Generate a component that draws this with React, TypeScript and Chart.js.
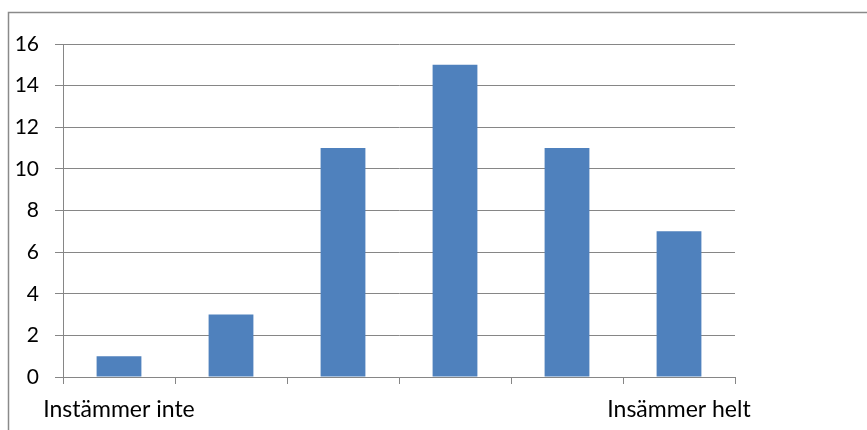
import React, { useEffect, useRef } from "react";
import { Chart, registerables } from "chart.js";

Chart.register(...registerables);

const categories = ["Instämmer inte", "", "", "", "", "Insämmer helt"];
const values = [1, 3, 11, 15, 11, 7];
const yTicks = [0, 2, 4, 6, 8, 10, 12, 14, 16];

const GRID = "#868686";
const FONT = "Lato, 'Open Sans', sans-serif";

const frame = {
  id: "frame",
  afterDraw(chart: any) {
    const ctx = chart.ctx;
    ctx.save();
    ctx.strokeStyle = "#8a8a8a";
    ctx.lineWidth = 1.5;
    ctx.beginPath();
    ctx.moveTo(8.5, 430);
    ctx.lineTo(8.5, 12.5);
    ctx.lineTo(867, 12.5);
    ctx.stroke();
    ctx.restore();
  },
};

export default function App() {
  const ref = useRef<HTMLCanvasElement>(null);
  useEffect(() => {
    if (!ref.current) return;
    const chart = new Chart(ref.current, {
      type: "bar",
      data: {
        labels: categories,
        datasets: [
          {
            data: values,
            backgroundColor: "#4F81BD",
            barPercentage: 0.4,
            categoryPercentage: 1,
          },
        ],
      },
      options: {
        responsive: false,
        animation: false,
        layout: { padding: { left: 0, top: 44, right: 132, bottom: 0 } },
        plugins: { legend: { display: false }, tooltip: { enabled: false } },
        scales: {
          x: {
            grid: {
              display: true,
              drawOnChartArea: false,
              drawTicks: true,
              tickLength: 7,
              color: GRID,
              offset: true,
            },
            border: { display: true, color: GRID, width: 1 },
            ticks: {
              color: "#000",
              font: { family: FONT, size: 23 },
              padding: 12,
              maxRotation: 0,
              autoSkip: false,
            },
            afterFit(scale: any) {
              scale.height = 53;
            },
          },
          y: {
            min: 0,
            max: 16,
            afterBuildTicks(scale: any) {
              scale.ticks = yTicks.map((v) => ({ value: v }));
            },
            grid: { color: GRID, tickLength: 8, drawTicks: true },
            border: { display: true, color: GRID, width: 1 },
            ticks: {
              color: "#000",
              font: { family: FONT, size: 21 },
              padding: 16,
            },
            afterFit(scale: any) {
              scale.width = 63;
            },
          },
        },
      },
      plugins: [frame],
    });
    return () => chart.destroy();
  }, []);
  return (
    <div style={{ position: "fixed", left: 0, top: 0, width: 867, height: 430, background: "#fff" }}>
      <canvas ref={ref} width={867} height={430} />
    </div>
  );
}
